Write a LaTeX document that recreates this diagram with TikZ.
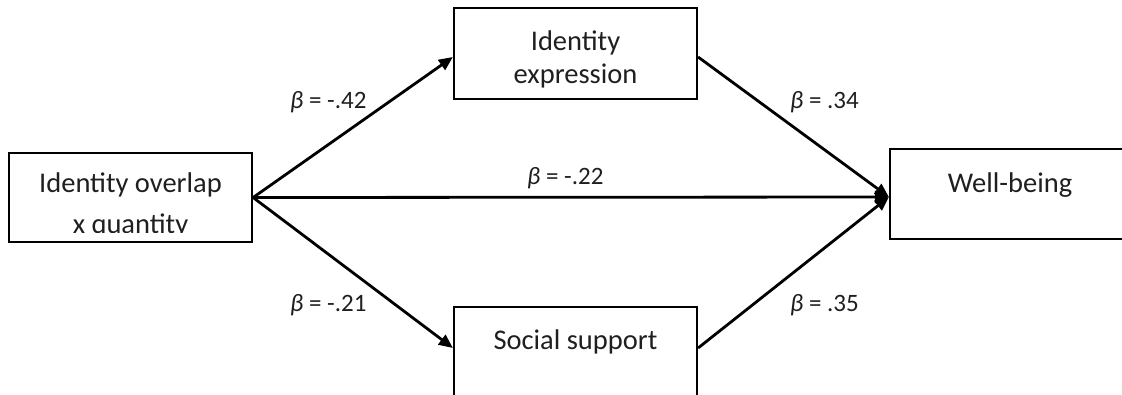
\documentclass[tikz,border=0pt]{standalone}
\usepackage{fontspec}
\setmainfont{Carlito}
\usetikzlibrary{arrows.meta}
\begin{document}
\begin{tikzpicture}[x=1pt,y=-1pt,
  box/.style={draw,line width=2.2pt,rectangle,inner sep=0pt},
  boxtext/.style={font=\fontsize{28.5}{34}\selectfont,anchor=base,inner sep=0pt,text=black!88},
  coef/.style={font=\fontsize{25}{30}\selectfont,anchor=base west,inner sep=0pt,text=black!88},
  conn/.style={line width=2.8pt,-{Triangle[length=14pt,width=12pt]}}]
\useasboundingbox (0,0) rectangle (1122,394);
\clip (0,0) rectangle (1122,394);
% boxes
\node[box,minimum width=243pt,minimum height=89pt] (L) at (130.5,197.5) {};
\node[box,minimum width=243pt,minimum height=91pt] (T) at (575.5,53.5) {};
\node[box,minimum width=243pt,minimum height=93pt] (B) at (575.5,353.5) {};
\node[box,minimum width=240pt,minimum height=90pt] (R) at (1010,194) {};
% connector end points
\coordinate (Tin) at ([yshift=-3.5pt]T.west);
\coordinate (Tout) at ([yshift=-3.5pt]T.east);
\coordinate (Bin) at ([yshift=5.5pt]B.west);
\coordinate (Bout) at ([yshift=5.5pt]B.east);
\coordinate (Rin) at ([yshift=-3pt]R.west);
% connectors
\draw[conn] (L.east) -- (Tin);
\draw[conn] (L.east) -- (Bin);
\draw[conn] (L.east) -- (Rin);
\draw[conn] (Tout) -- (Rin);
\draw[conn] (Bout) -- (Rin);
% box texts
\node[boxtext] (Lt1) at (130.5,192) {Identity overlap};
\begin{scope}
\clip (11,150) rectangle (250,232);
\node[boxtext] (Lt2) at (130.5,233.5) {x quantity};
\end{scope}
\node[boxtext] (Tt1) at (575.5,50) {Identity};
\node[boxtext] (Tt2) at (575.5,83.5) {expression};
\node[boxtext] (Bt) at (575.5,349) {Social support};
\node[boxtext] (Rt) at (1010,192) {Well-being};
% coefficients
\node[coef] (c1) at (290,108) {\textit{β} = -.42};
\node[coef] (c2) at (790,108) {\textit{β} = .34};
\node[coef] (c3) at (527,184) {\textit{β} = -.22};
\node[coef] (c4) at (290,311) {\textit{β} = -.21};
\node[coef] (c5) at (790,311) {\textit{β} = .35};
\end{tikzpicture}
\end{document}
